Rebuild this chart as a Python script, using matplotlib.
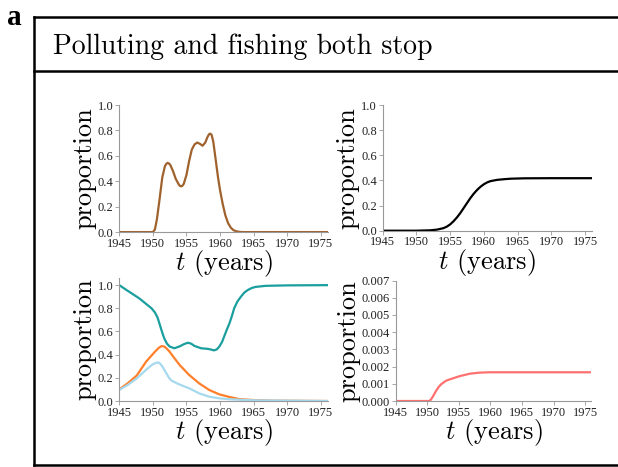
import numpy as np
import matplotlib
matplotlib.use("Agg")
import matplotlib.pyplot as plt
from matplotlib.lines import Line2D

plt.rcParams['mathtext.fontset'] = 'cm'

# -- donnees --
years_a = [1945, 1950, 1950.3, 1950.6, 1951.0, 1951.4, 1951.8, 1952.0, 1952.2, 1952.4, 1952.6,
           1953.0, 1953.4, 1953.8, 1954.0, 1954.2, 1954.4, 1954.6, 1955.0, 1955.4, 1955.8,
           1956.2, 1956.6, 1957.0, 1957.4, 1957.8, 1958.1, 1958.35, 1958.55, 1958.75, 1959.0,
           1959.2, 1959.4, 1959.7, 1960.0, 1960.4, 1960.8, 1961.2, 1961.6, 1962.0, 1962.5,
           1963.0, 1963.5, 1976]
brown = [0, 0, 0.02, 0.10, 0.26, 0.43, 0.52, 0.537, 0.545, 0.54, 0.528,
         0.48, 0.42, 0.38, 0.365, 0.36, 0.365, 0.38, 0.45, 0.56, 0.65,
         0.69, 0.705, 0.695, 0.68, 0.705, 0.745, 0.77, 0.775, 0.765, 0.71,
         0.63, 0.55, 0.43, 0.33, 0.22, 0.13, 0.07, 0.035, 0.015, 0.005,
         0.001, 0, 0]

years_b = [1945, 1950, 1952, 1953, 1954, 1954.5, 1955, 1955.5, 1956, 1956.5, 1957, 1957.5,
           1958, 1958.5, 1959, 1959.5, 1960, 1960.5, 1961, 1962, 1963, 1964, 1966, 1970, 1976]
black = [0, 0, 0.003, 0.008, 0.02, 0.032, 0.05, 0.075, 0.105, 0.14, 0.18, 0.22,
         0.26, 0.295, 0.325, 0.35, 0.37, 0.385, 0.395, 0.405, 0.41, 0.414, 0.417, 0.418, 0.418]

years_c = [1945, 1946.1, 1948, 1949.8, 1950.3, 1950.7, 1951, 1951.4, 1951.7, 1952.1, 1952.5,
           1953.2, 1954, 1954.6, 1955.2, 1955.7, 1956.2, 1957.2, 1958.2, 1958.8, 1959.1,
           1959.5, 1959.9, 1960.3, 1960.6, 1961.0, 1961.4, 1961.8, 1962.1, 1962.6, 1963.1,
           1963.6, 1964.1, 1964.7, 1965.3, 1966.8, 1970, 1976]
teal = [1.0, 0.957, 0.885, 0.8, 0.765, 0.72, 0.665, 0.59, 0.54, 0.495, 0.47,
        0.455, 0.472, 0.49, 0.503, 0.495, 0.475, 0.455, 0.45, 0.442, 0.437,
        0.445, 0.47, 0.51, 0.555, 0.615, 0.67, 0.74, 0.8, 0.86, 0.9,
        0.935, 0.957, 0.975, 0.985, 0.994, 0.998, 1.0]

years_d = [1945, 1946.3, 1947.6, 1949, 1950.3, 1950.9, 1951.3, 1951.7, 1952.1, 1952.5, 1953.2,
           1954, 1955.4, 1956.9, 1958.4, 1959.9, 1961.4, 1962.8, 1965, 1968, 1976]
orange = [0.10, 0.155, 0.22, 0.34, 0.425, 0.46, 0.474, 0.47, 0.45, 0.425, 0.37,
          0.31, 0.225, 0.152, 0.095, 0.057, 0.035, 0.017, 0.008, 0.003, 0]

years_e = [1945, 1946.3, 1947.6, 1949, 1950, 1950.5, 1950.8, 1951.1, 1951.5, 1952, 1952.4,
           1952.8, 1953.5, 1954.5, 1955.4, 1956.9, 1958.4, 1959.9, 1961.4, 1965, 1976]
lightblue = [0.095, 0.14, 0.195, 0.27, 0.318, 0.33, 0.333, 0.322, 0.29, 0.24, 0.2,
             0.175, 0.155, 0.13, 0.11, 0.066, 0.037, 0.023, 0.015, 0.006, 0]

years_f = [1945, 1950.3, 1950.6, 1950.9, 1951.4, 1951.8, 1952.2, 1953, 1954.1, 1955.2,
           1956.8, 1958.4, 1960, 1976]
red = [0, 0, 0.00008, 0.00025, 0.00058, 0.0008, 0.00097, 0.00118, 0.00132, 0.00145,
       0.00159, 0.00165, 0.00167, 0.00167]

xticks = [1945, 1950, 1955, 1960, 1965, 1970, 1975]

fig = plt.figure(figsize=(6.18, 4.67), dpi=100)

def style(ax, ylim, yticks, fmt):
    ax.set_xlim(1945, 1976)
    ax.set_ylim(*ylim)
    ax.set_xticks(xticks)
    ax.set_yticks(yticks)
    ax.set_xticklabels([str(x) for x in xticks], family='Liberation Serif', fontsize=9)
    ax.set_yticklabels([fmt % y for y in yticks], family='Liberation Serif', fontsize=9)
    for s in ['top', 'right']:
        ax.spines[s].set_visible(False)
    for s in ['left', 'bottom']:
        ax.spines[s].set_color('#999999')
        ax.spines[s].set_linewidth(0.8)
    ax.tick_params(length=3, width=0.6, color='#999999', pad=1, labelcolor='#222222')
    ax.set_xlabel('$t$ (years)', family='cmr10', fontsize=19, labelpad=-1)
    ax.set_ylabel('proportion', family='cmr10', fontsize=19, labelpad=1)

ax1 = fig.add_axes([0.193, 0.503, 0.337, 0.272])
ax1.plot(years_a, brown, color='#a0622d', lw=1.6)
style(ax1, (0, 1.0), [0, 0.2, 0.4, 0.6, 0.8, 1.0], '%.1f')

ax2 = fig.add_axes([0.619, 0.506, 0.339, 0.269])
ax2.plot(years_b, black, color='black', lw=1.6)
style(ax2, (0, 1.0), [0, 0.2, 0.4, 0.6, 0.8, 1.0], '%.1f')

ax3 = fig.add_axes([0.193, 0.1413, 0.337, 0.263])
ax3.plot(years_c, teal, color='#1a9e9e', lw=1.6)
ax3.plot(years_d, orange, color='#ff7f2a', lw=1.6)
ax3.plot(years_e, lightblue, color='#a6d9ee', lw=1.6)
style(ax3, (0, 1.06), [0, 0.2, 0.4, 0.6, 0.8, 1.0], '%.1f')

ax4 = fig.add_axes([0.640, 0.1413, 0.317, 0.258])
ax4.plot(years_f, red, color='#ff7070', lw=1.6)
style(ax4, (0, 0.007), [0, 0.001, 0.002, 0.003, 0.004, 0.005, 0.006, 0.007], '%.3f')

# cadre
x0 = 34 / 618
for y in [1 - 17 / 467, 1 - 71 / 467, 1 - 465 / 467]:
    fig.add_artist(Line2D([x0, 1.0], [y, y], color='black', lw=1.8))
fig.add_artist(Line2D([x0, x0], [1 - 17 / 467, 1 - 465 / 467], color='black', lw=1.8))

fig.text(53 / 618, 1 - 54 / 467, 'Polluting and fishing both stop', family='cmr10',
         fontsize=20, va='baseline', ha='left')
fig.text(7 / 618, 1 - 25 / 467, 'a', family='Liberation Serif', fontweight='bold',
         fontsize=21, va='baseline', ha='left')

plt.savefig('out.png', dpi=100)
